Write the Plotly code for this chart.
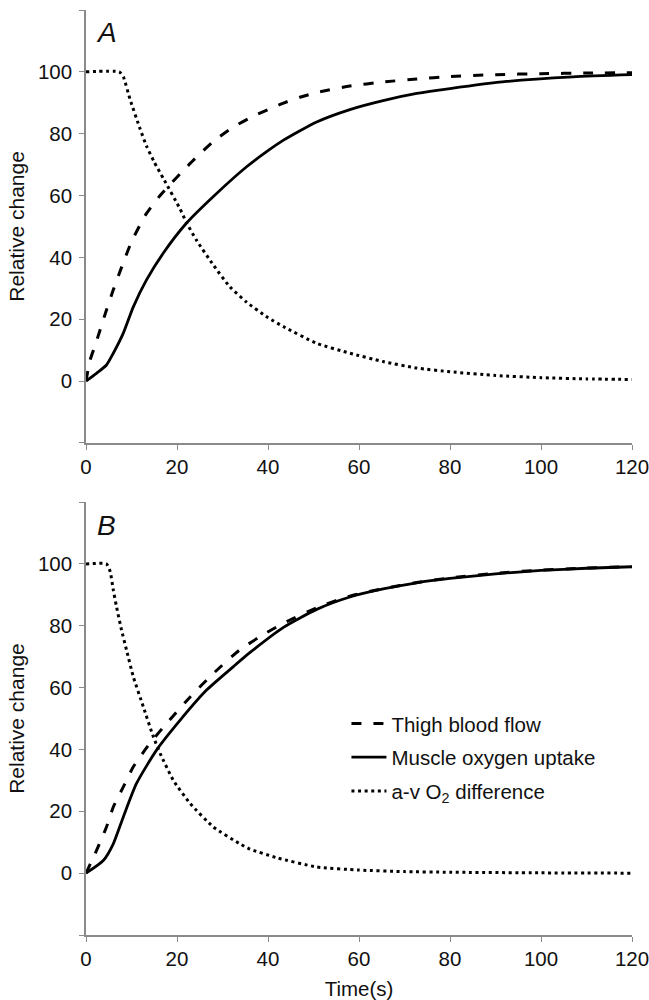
import plotly.graph_objects as go
from plotly.subplots import make_subplots

# ---- Panel A data ----
a_flow_t = [0, 0.9, 2, 4.5, 6, 8, 10, 13, 16, 18, 21, 24, 28, 32, 36, 40, 43.4, 47, 50.7, 58, 65.3, 72.7, 80, 90, 100, 110, 120]
a_flow = [0, 6.8, 11.5, 23, 29.5, 37.5, 45, 53.5, 59.5, 62.8, 67.5, 72, 77.5, 81.8, 85.1, 87.8, 89.9, 91.8, 93.3, 95.4, 96.7, 97.7, 98.5, 99.1, 99.4, 99.6, 99.7]

a_vo2_t = [0, 2.3, 4.5, 6, 8.2, 10.4, 13.3, 17, 22.1, 28, 35.3, 40, 43.4, 50.7, 58, 65.3, 72.7, 80, 92.5, 107, 120]
a_vo2 = [0, 2.5, 5.2, 9, 15.5, 24, 32.7, 41.4, 51.1, 59.7, 69.3, 74.5, 77.9, 83.8, 87.8, 90.7, 93, 94.6, 96.9, 98.4, 99.1]

a_avo2_t = [0, 7.3, 8.2, 9.7, 11.9, 13.3, 15, 17, 20.7, 22.1, 24.3, 28, 31.6, 35.3, 40, 43.4, 50.7, 58, 65.3, 72.7, 80, 90, 100, 110, 120]
a_avo2 = [100, 100, 98.4, 91, 81.5, 76, 70.8, 65.5, 55.6, 51.2, 45.5, 37.5, 30.5, 25.5, 20.5, 17.6, 12.2, 9, 6.3, 4.2, 3.0, 1.8, 1.1, 0.7, 0.5]

# ---- Panel B data ----
b_flow_t = [0, 2, 4.5, 6, 8.2, 10.4, 14, 17.7, 22.9, 28, 33.8, 39.7, 43.4, 50.7, 58, 65.3, 72.7, 80, 90, 100, 110, 120]
b_flow = [0, 6.3, 14.9, 21.4, 27.9, 34.4, 41.9, 48.4, 57, 64.6, 72.2, 77.8, 80.8, 85.8, 89.6, 92, 94, 95.5, 97, 98, 98.7, 99.1]

b_vo2_t = [0, 3.8, 6, 8.2, 11.1, 15.5, 20.7, 26.5, 32.4, 36, 43.4, 50.7, 58, 65.3, 72.7, 80, 90, 100, 110, 120]
b_vo2 = [0, 4.1, 9.5, 18.2, 29, 39.8, 49.5, 59.2, 66.8, 71.3, 79.5, 85.3, 89.3, 91.9, 93.9, 95.3, 96.8, 97.9, 98.6, 99.1]

b_avo2_t = [0, 4.5, 5.3, 6, 6.7, 7.8, 8.9, 10.4, 12.6, 14.8, 16.3, 19.2, 22.9, 28, 33.8, 36, 41.9, 50.7, 60, 70, 80, 100, 120]
b_avo2 = [100, 100, 97.6, 91.6, 86.2, 78.7, 72.2, 63.5, 53.8, 44.1, 38.7, 30, 22.5, 14.9, 9.5, 7.8, 5.0, 2.0, 1.0, 0.5, 0.3, 0.1, 0]

y_tickvals = [0, 20, 40, 60, 80, 100]
y_ticktext = ["0", "20", "40", "60", "80", "100"]
y_end_ticks = [-20, 120]
x_tickvals = [0, 20, 40, 60, 80, 100, 120]

names = ["Thigh blood flow", "Muscle oxygen uptake", "a-v O<sub>2</sub> difference"]
FONT = "Liberation Sans, Arial, sans-serif"
FS = 20.5

fig = make_subplots(rows=2, cols=1, vertical_spacing=0.064)

dash_flow = "10px,12px"
dash_avo2 = "3px,3.6px"

panels = [
    (1, a_flow_t, a_flow, a_vo2_t, a_vo2, a_avo2_t, a_avo2, False),
    (2, b_flow_t, b_flow, b_vo2_t, b_vo2, b_avo2_t, b_avo2, True),
]
for row, ft, fv, vt, vv, at, av, show in panels:
    fig.add_trace(go.Scatter(x=ft, y=fv, mode="lines", name=names[0], legendgroup="g1",
                             showlegend=show,
                             line=dict(color="black", width=3, dash=dash_flow, shape="spline", smoothing=0.6)),
                  row=row, col=1)
    fig.add_trace(go.Scatter(x=vt, y=vv, mode="lines", name=names[1], legendgroup="g2",
                             showlegend=show,
                             line=dict(color="black", width=2.8, shape="spline", smoothing=0.6)),
                  row=row, col=1)
    fig.add_trace(go.Scatter(x=at, y=av, mode="lines", name=names[2], legendgroup="g3",
                             showlegend=show,
                             line=dict(color="black", width=3, dash=dash_avo2, shape="spline", smoothing=0.5)),
                  row=row, col=1)

axis_common = dict(showline=True, linecolor="#8a8a8a", linewidth=1.6, showgrid=False,
                   zeroline=False, ticks="outside", ticklen=5, tickwidth=1.4, tickcolor="#8a8a8a",
                   automargin=False, ticklabeloverflow="allow",
                   tickfont=dict(family=FONT, size=FS, color="#111111"))

for r in (1, 2):
    fig.update_xaxes(range=[0, 120], tickvals=x_tickvals, row=r, col=1, **axis_common)
    fig.update_yaxes(range=[-20, 120], tickvals=y_tickvals, ticktext=y_ticktext, row=r, col=1,
                     ticklabelstandoff=3,
                     minor=dict(tickvals=y_end_ticks, ticks="outside", ticklen=5, tickwidth=1.4,
                                tickcolor="#8a8a8a", showgrid=False),
                     title=dict(text="Relative change", font=dict(family=FONT, size=21, color="#111111"),
                                standoff=8),
                     **axis_common)

fig.update_xaxes(title=dict(text="Time(s)", font=dict(family=FONT, size=FS, color="#111111"), standoff=12),
                 row=2, col=1)

fig.update_layout(
    xaxis=dict(domain=[0, 1]),
    yaxis=dict(domain=[0.532, 1.0]),
    yaxis2=dict(domain=[0.0, 0.468]),
)

fig.add_annotation(text="<i>A</i>", xref="x domain", yref="y domain", x=0.037, y=0.947,
                   showarrow=False, xanchor="center", yanchor="middle",
                   font=dict(family=FONT, size=28, color="#111111"))
fig.add_annotation(text="<i>B</i>", xref="x2 domain", yref="y2 domain", x=0.037, y=0.947,
                   showarrow=False, xanchor="center", yanchor="middle",
                   font=dict(family=FONT, size=28, color="#111111"))

fig.update_layout(
    width=649, height=1000,
    margin=dict(l=86, r=17, t=10, b=65, autoexpand=False),
    paper_bgcolor="white", plot_bgcolor="white",
    showlegend=True,
    legend=dict(x=0.477, y=0.25, xref="paper", yref="paper", xanchor="left", yanchor="top",
                bgcolor="rgba(0,0,0,0)", borderwidth=0, traceorder="grouped", tracegroupgap=4,
                itemwidth=35,
                font=dict(family=FONT, size=FS, color="#111111")),
)

fig.write_html("out.html")
